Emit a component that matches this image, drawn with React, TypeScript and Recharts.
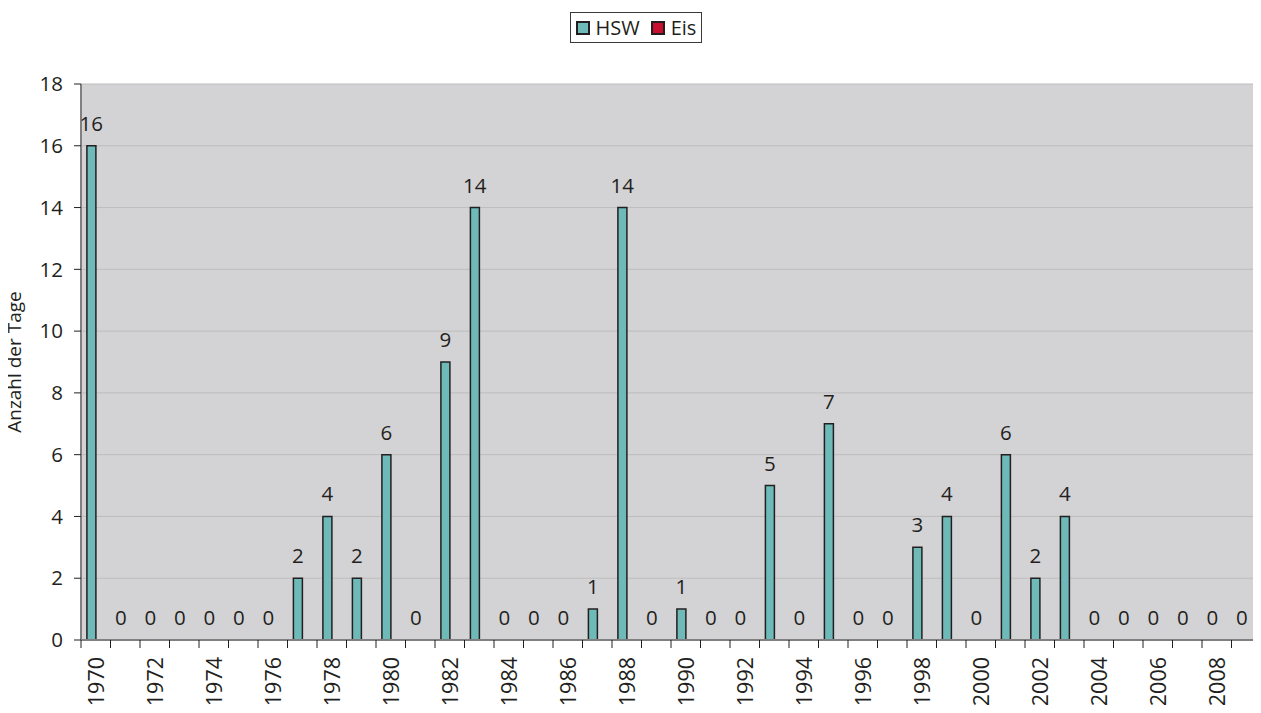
import React from 'react';
import {
  ComposedChart,
  Bar,
  Line,
  XAxis,
  YAxis,
  CartesianGrid,
  Legend,
  LabelList,
} from 'recharts';

// Jahre 1970–2009
const years: number[] = [
  1970, 1971, 1972, 1973, 1974, 1975, 1976, 1977, 1978, 1979,
  1980, 1981, 1982, 1983, 1984, 1985, 1986, 1987, 1988, 1989,
  1990, 1991, 1992, 1993, 1994, 1995, 1996, 1997, 1998, 1999,
  2000, 2001, 2002, 2003, 2004, 2005, 2006, 2007, 2008, 2009,
];

// Tage mit Hochwasser (HSW)
const hswDays: number[] = [
  16, 0, 0, 0, 0, 0, 0, 2, 4, 2,
  6, 0, 9, 14, 0, 0, 0, 1, 14, 0,
  1, 0, 0, 5, 0, 7, 0, 0, 3, 4,
  0, 6, 2, 4, 0, 0, 0, 0, 0, 0,
];

// Tage mit Eis
const eisDays: number[] = [
  0, 0, 0, 0, 0, 0, 0, 0, 0, 0,
  0, 0, 0, 0, 0, 0, 0, 0, 0, 0,
  0, 0, 0, 0, 0, 0, 0, 0, 0, 0,
  0, 0, 0, 0, 0, 0, 0, 0, 0, 0,
];

const yTicks: number[] = [0, 2, 4, 6, 8, 10, 12, 14, 16, 18];

const seriesNames = { hsw: 'HSW', eis: 'Eis' };
const seriesColors = { hsw: '#6dbab8', eis: '#c8102e' };

const data = years.map((year, i) => ({
  year,
  hsw: hswDays[i],
  eis: eisDays[i],
}));

const WIDTH = 1261;
const HEIGHT = 713;
const MARGIN = { top: 84, right: 0, bottom: 3, left: 8 };
const Y_AXIS_WIDTH = 73;
const X_AXIS_HEIGHT = 70;
const PLOT_W = WIDTH - MARGIN.left - MARGIN.right - Y_AXIS_WIDTH;
const BAND = PLOT_W / years.length;
// 20 % gap on each side of a group, two bars per group:
// the HSW bar centre sits 0.15 band left of the category centre
const HSW_SHIFT = -BAND * 0.15;

const TEXT = '#231f20';
const AXIS = '#808080';
const FONT = '"Open Sans", sans-serif';

const YearTick = (props: any) => {
  const { x, y, payload, index } = props;
  const left = x - BAND / 2;
  const right = x + BAND / 2;
  const showLabel = payload.value % 2 === 0;
  return (
    <g>
      <line x1={left} x2={left} y1={y} y2={y + 8} stroke={TEXT} strokeWidth={1} />
      {index === years.length - 1 && (
        <line x1={right} x2={right} y1={y} y2={y + 8} stroke={TEXT} strokeWidth={1} />
      )}
      {showLabel && (
        <text
          transform={`translate(${x}, ${y + 17}) rotate(-90)`}
          textAnchor="end"
          dy="0.36em"
          fontSize={21.5}
          fill={TEXT}
          fontFamily={FONT}
        >
          {payload.value}
        </text>
      )}
    </g>
  );
};

// Wert über dem HSW-Balken, auch für 0
const ValueLabel = (props: any) => {
  const { x, y, value } = props;
  return (
    <text
      x={x + HSW_SHIFT}
      y={y - 15}
      textAnchor="middle"
      fontSize={20.5}
      fill={TEXT}
      fontFamily={FONT}
    >
      {value}
    </text>
  );
};

const LegendBox = () => (
  <div
    style={{
      boxSizing: 'border-box',
      width: 132,
      height: 31,
      border: '1.5px solid #3a3a3a',
      background: '#ffffff',
      display: 'flex',
      alignItems: 'center',
      paddingLeft: 4.5,
      fontSize: 20,
      color: TEXT,
      fontFamily: FONT,
      lineHeight: '28px',
    }}
  >
    {(['hsw', 'eis'] as const).map((key, i) => (
      <span
        key={key}
        style={{ display: 'flex', alignItems: 'center', marginRight: i === 0 ? 11 : 0 }}
      >
        <span
          style={{
            display: 'inline-block',
            boxSizing: 'border-box',
            width: 14,
            height: 14,
            border: `2px solid ${TEXT}`,
            background: seriesColors[key],
            marginRight: 6,
          }}
        />
        {seriesNames[key]}
      </span>
    ))}
  </div>
);

const YTitle = (props: any) => {
  const vb = props.viewBox;
  const cx = vb.x + 13;
  const cy = vb.y + vb.height / 2;
  return (
    <text
      x={cx}
      y={cy}
      transform={`rotate(-90 ${cx} ${cy})`}
      textAnchor="middle"
      fontSize={19}
      fill={TEXT}
      fontFamily={FONT}
    >
      Anzahl der Tage
    </text>
  );
};

export default function App() {
  return (
    <div style={{ margin: -8, width: WIDTH, height: HEIGHT, fontFamily: FONT, background: '#fff' }}>
      <ComposedChart
        width={WIDTH}
        height={HEIGHT}
        data={data}
        margin={MARGIN}
        barCategoryGap="20%"
        barGap={0}
      >
        <CartesianGrid
          vertical={false}
          stroke="#bdbdbd"
          strokeWidth={1}
          fill="#d3d3d5"
          fillOpacity={1}
        />
        <XAxis
          dataKey="year"
          height={X_AXIS_HEIGHT}
          interval={0}
          tickLine={false}
          tickSize={0}
          tickMargin={0}
          axisLine={{ stroke: AXIS, strokeWidth: 2 }}
          tick={<YearTick />}
        />
        <YAxis
          width={Y_AXIS_WIDTH}
          domain={[0, 18]}
          ticks={yTicks}
          interval={0}
          tickSize={7}
          tickMargin={11}
          tickLine={{ stroke: TEXT, strokeWidth: 1 }}
          axisLine={{ stroke: AXIS, strokeWidth: 2 }}
          tick={{ fill: TEXT, fontSize: 20.5, fontFamily: FONT }}
          label={{ content: <YTitle /> }}
        />
        <Legend
          layout="horizontal"
          align="center"
          verticalAlign="middle"
          wrapperStyle={{ left: 570, top: 12, width: 132, height: 31 }}
          content={<LegendBox />}
        />
        <Bar
          dataKey="hsw"
          name={seriesNames.hsw}
          fill={seriesColors.hsw}
          stroke={TEXT}
          strokeWidth={1.5}
          isAnimationActive={false}
        />
        <Bar
          dataKey="eis"
          name={seriesNames.eis}
          fill={seriesColors.eis}
          stroke={TEXT}
          strokeWidth={1.5}
          isAnimationActive={false}
        />
        {/* unsichtbare Linie, trägt nur die Werte-Beschriftung */}
        <Line
          dataKey="hsw"
          stroke="none"
          dot={false}
          activeDot={false}
          legendType="none"
          isAnimationActive={false}
        >
          <LabelList dataKey="hsw" content={<ValueLabel />} />
        </Line>
      </ComposedChart>
    </div>
  );
}
